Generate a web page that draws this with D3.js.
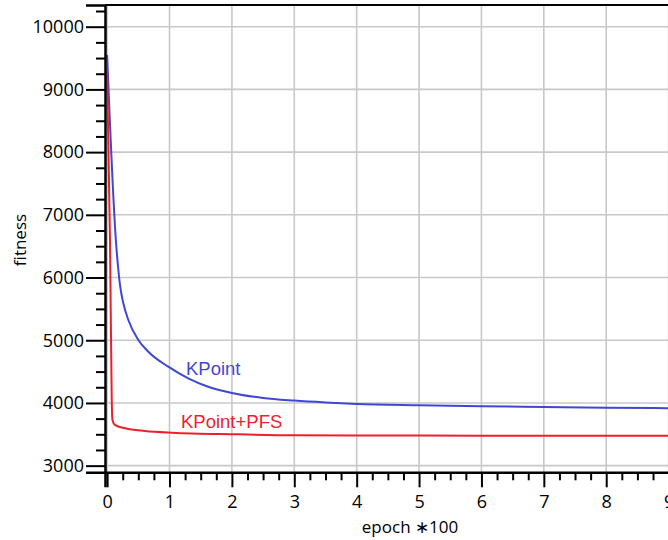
<!DOCTYPE html>
<html>
<head>
<meta charset="utf-8">
<script src="https://cdn.jsdelivr.net/npm/d3@7"></script>
<style>
  body { margin: 0; background: #fff; }
  svg { display: block; }
</style>
</head>
<body>
<div id="chart"></div>
<script>
// Data (epoch in hundreds, fitness)
const kpointEpoch = [0, 0.14, 0.18, 0.21, 0.26, 0.34, 0.5, 0.66, 0.98, 1.3, 1.62, 2.0, 2.5, 3.0, 3.5, 4, 5, 6, 7, 8, 9, 10];
const kpointFitness = [9549, 6600, 6120, 5854, 5589, 5323, 5004, 4817, 4578, 4393, 4259, 4160, 4080, 4038, 4008, 3985, 3963, 3947, 3936, 3925, 3917, 3910];

const pfsEpoch = [0, 0.046, 0.074, 0.085, 0.125, 0.29, 0.61, 1.04, 2.1, 3.0, 4, 5, 6, 7, 8, 9, 10];
const pfsFitness = [9283, 6600, 4048, 3729, 3650, 3596, 3553, 3526, 3500, 3484, 3480, 3479, 3478, 3478, 3478, 3478, 3478];

const xTicks = [0, 1, 2, 3, 4, 5, 6, 7, 8, 9, 10];
const yTicks = [3000, 4000, 5000, 6000, 7000, 8000, 9000, 10000];

const width = 668;
const height = 540;
const blue = "#3f48d4";
const red = "#ee1f2d";

const svg = d3.select("#chart")
    .append("svg")
    .attr("width", width)
    .attr("height", height);

// Scales (plot runs past the right edge of the window)
const x = d3.scaleLinear()
    .domain([-0.034, 10])
    .range([105, 731]);

const y = d3.scaleLinear()
    .domain([2894, 10346])
    .range([472.3, 5]);

// Grid
svg.append("g")
    .selectAll("line")
    .data(xTicks)
    .join("line")
    .attr("x1", d => x(d)).attr("x2", d => x(d))
    .attr("y1", y.range()[1]).attr("y2", y.range()[0])
    .attr("stroke", "#c8c8c8")
    .attr("stroke-width", 1.6);

svg.append("g")
    .selectAll("line")
    .data(yTicks)
    .join("line")
    .attr("x1", x.range()[0]).attr("x2", x.range()[1])
    .attr("y1", d => y(d)).attr("y2", d => y(d))
    .attr("stroke", "#c8c8c8")
    .attr("stroke-width", 1.6);

// Top border
svg.append("line")
    .attr("x1", x.range()[0]).attr("x2", x.range()[1])
    .attr("y1", y.range()[1]).attr("y2", y.range()[1])
    .attr("stroke", "#000")
    .attr("stroke-width", 2);

// Lines
const line = d3.line()
    .x(d => x(d[0]))
    .y(d => y(d[1]))
    .curve(d3.curveMonotoneX);

svg.append("path")
    .datum(kpointEpoch.map((e, i) => [e, kpointFitness[i]]))
    .attr("d", line)
    .attr("fill", "none")
    .attr("stroke", blue)
    .attr("stroke-width", 2);

svg.append("path")
    .datum(pfsEpoch.map((e, i) => [e, pfsFitness[i]]))
    .attr("d", line)
    .attr("fill", "none")
    .attr("stroke", red)
    .attr("stroke-width", 2);

// Axes
const xMinor = d3.range(0, 10.01, 0.25).filter(d => !xTicks.includes(d));
const yMinor = d3.range(3000, 10300, 250).filter(d => !yTicks.includes(d));

svg.append("g")
    .attr("transform", `translate(0,${y.range()[0]})`)
    .call(d3.axisBottom(x).tickValues(xMinor).tickSize(8).tickFormat(""))
    .call(g => g.select(".domain").remove())
    .call(g => g.selectAll(".tick line").attr("stroke-width", 2));

svg.append("g")
    .attr("transform", `translate(0,${y.range()[0]})`)
    .call(d3.axisBottom(x).tickValues(xTicks).tickSize(15).tickPadding(8).tickFormat(d3.format("d")))
    .call(g => g.select(".domain").attr("stroke-width", 2.5))
    .call(g => g.selectAll(".tick line").attr("stroke-width", 2))
    .call(g => g.selectAll("text")
        .style("font-family", "'Open Sans', sans-serif")
        .style("font-size", "18px")
        .attr("fill", "#000"));

svg.append("g")
    .attr("transform", `translate(${x.range()[0]},0)`)
    .call(d3.axisLeft(y).tickValues(yMinor).tickSize(9).tickFormat(""))
    .call(g => g.select(".domain").remove())
    .call(g => g.selectAll(".tick line").attr("stroke-width", 2));

svg.append("g")
    .attr("transform", `translate(${x.range()[0]},0)`)
    .call(d3.axisLeft(y).tickValues(yTicks).tickSize(19).tickPadding(2).tickFormat(d3.format("d")))
    .call(g => g.select(".domain").attr("stroke-width", 2.5))
    .call(g => g.selectAll(".tick line").attr("stroke-width", 2))
    .call(g => g.selectAll("text")
        .style("font-family", "'Open Sans', sans-serif")
        .style("font-size", "18px")
        .attr("fill", "#000"));

// Axis titles
svg.append("text")
    .attr("x", 410)
    .attr("y", 533)
    .attr("text-anchor", "middle")
    .style("font-family", "'Open Sans', sans-serif")
    .style("font-size", "17px")
    .text("epoch \u2217100");

svg.append("text")
    .attr("transform", "rotate(-90)")
    .attr("x", -240)
    .attr("y", 26)
    .attr("text-anchor", "middle")
    .style("font-family", "'Open Sans', sans-serif")
    .style("font-size", "17px")
    .text("fitness");

// Series labels
svg.append("text")
    .attr("x", 186)
    .attr("y", 375)
    .attr("fill", blue)
    .style("font-family", "'Liberation Sans', Arial, sans-serif")
    .style("font-size", "18.5px")
    .text("KPoint");

svg.append("text")
    .attr("x", 181)
    .attr("y", 428)
    .attr("fill", red)
    .style("font-family", "'Liberation Sans', Arial, sans-serif")
    .style("font-size", "18.5px")
    .text("KPoint+PFS");
</script>
</body>
</html>
